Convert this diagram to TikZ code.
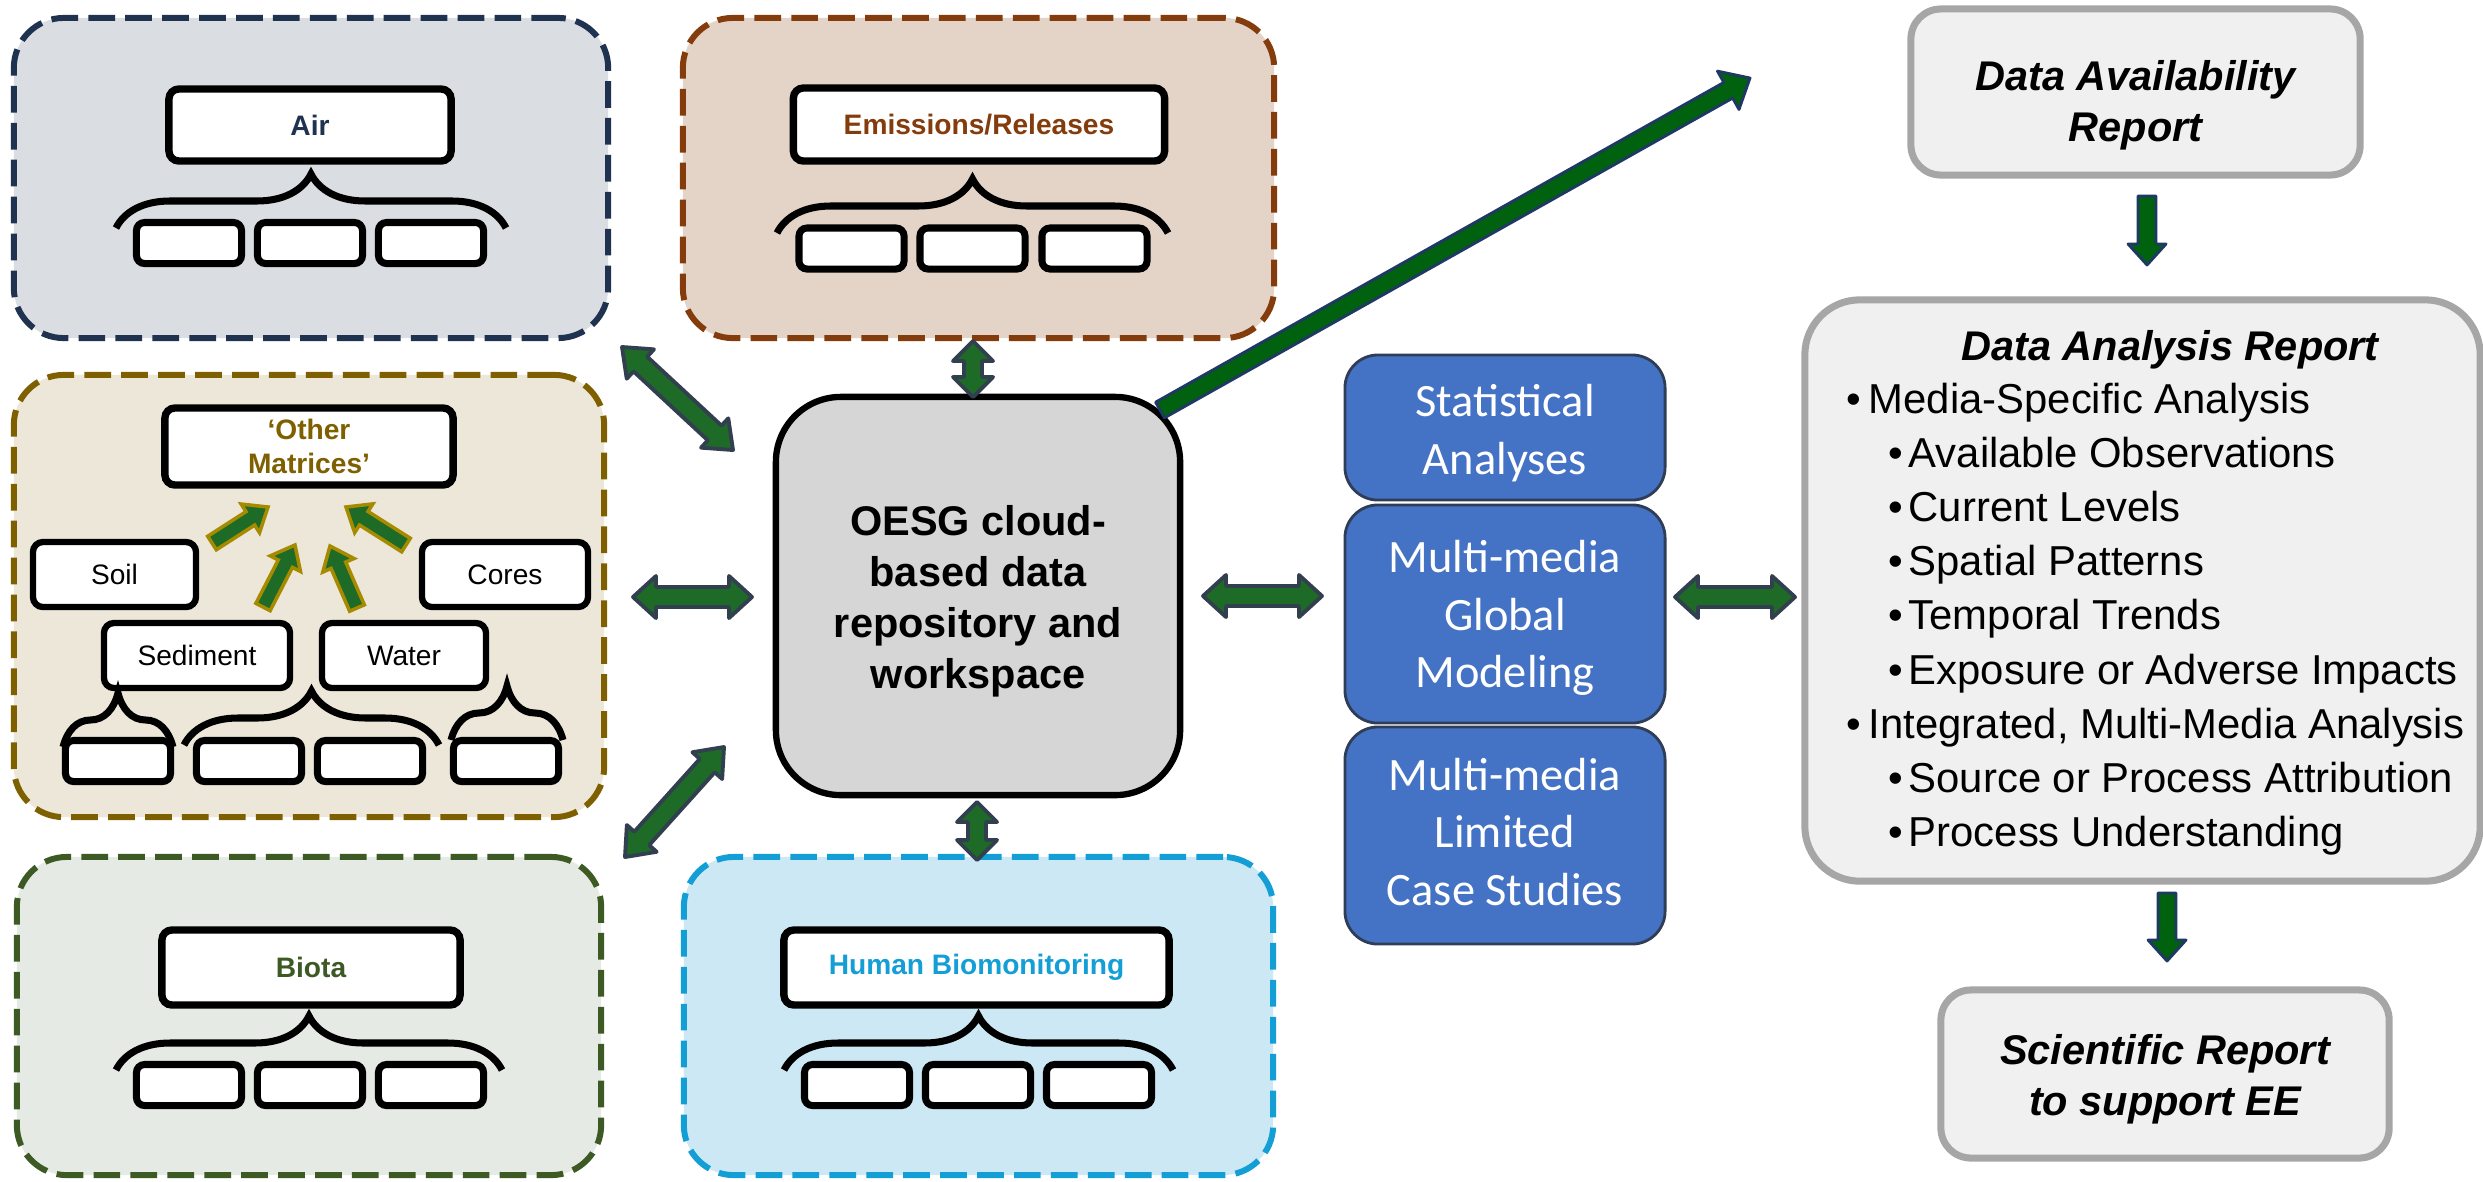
\documentclass[tikz,border=0pt]{standalone}
\usepackage{fontspec}
\setmainfont{Liberation Sans}
\newfontfamily\calib{Carlito}
\usetikzlibrary{calc,decorations.pathreplacing}

\definecolor{airC}{HTML}{1F3350}
\definecolor{airF}{HTML}{DADEE2}
\definecolor{emC}{HTML}{843C0C}
\definecolor{emF}{HTML}{E4D3C7}
\definecolor{othC}{HTML}{7F6000}
\definecolor{othF}{HTML}{EDE7DA}
\definecolor{bioC}{HTML}{3D5A24}
\definecolor{bioF}{HTML}{E6EAE4}
\definecolor{humC}{HTML}{139FD6}
\definecolor{humF}{HTML}{CCE8F4}
\definecolor{oesgF}{HTML}{D6D6D6}
\definecolor{arrF}{HTML}{1E6B28}
\definecolor{arrB}{HTML}{323F4F}
\definecolor{bigF}{HTML}{00610F}
\definecolor{bigB}{HTML}{1F3864}
\definecolor{goldB}{HTML}{A68B00}
\definecolor{blueF}{HTML}{4472C4}
\definecolor{blueB}{HTML}{2F3D57}
\definecolor{repF}{HTML}{F0F0F0}
\definecolor{repB}{HTML}{A6A6A6}

% double block arrow: #1 style, #2 A, #3 B, #4 shaft half width, #5 head half width, #6 head length
\newcommand{\dbarrow}[6]{%
\draw[#1] let \p1=($(#2)!#6!(#3)$), \p2=($(#3)!#6!(#2)$) in
 (#2) -- ($(\p1)!#5!90:(#3)$) -- ($(\p1)!#4!90:(#3)$) -- ($(\p2)!#4!-90:(#2)$) -- ($(\p2)!#5!-90:(#2)$) -- (#3)
 -- ($(\p2)!#5!90:(#2)$) -- ($(\p2)!#4!90:(#2)$) -- ($(\p1)!#4!-90:(#3)$) -- ($(\p1)!#5!-90:(#3)$) -- cycle;}
% single block arrow
\newcommand{\sgarrow}[6]{%
\draw[#1] let \p1=($(#3)!#6!(#2)$) in
 ($(#2)!#4!90:(#3)$) -- ($(\p1)!#4!-90:(#2)$) -- ($(\p1)!#5!-90:(#2)$) -- (#3)
 -- ($(\p1)!#5!90:(#2)$) -- ($(\p1)!#4!90:(#2)$) -- ($(#2)!#4!-90:(#3)$) -- cycle;}

\tikzset{
 region/.style={line width=1.7pt, dash pattern=on 7.6pt off 2.9pt, rounded corners=0.5cm, inner sep=0pt},
 lbl/.style={draw=black, fill=white, line width=2.1pt, rounded corners=0.1cm, inner sep=0pt,
   font=\fontsize{8}{9.6}\selectfont\bfseries, align=center},
 mbox/.style={draw=black, fill=white, line width=1.8pt, rounded corners=0.1cm, inner sep=0pt,
   font=\fontsize{8}{9.6}\selectfont},
 slot/.style={draw=black, fill=white, line width=2pt, rounded corners=0.08cm,
   minimum width=1.05cm, minimum height=0.41cm, inner sep=0pt},
 brc/.style={draw=black, line width=2pt, decorate, decoration={brace, amplitude=0.54cm}},
 darr/.style={fill=arrF, draw=arrB, line width=1.1pt, line join=round},
 barr/.style={fill=bigF, draw=bigB, line width=0.8pt, line join=round},
 garr/.style={fill=arrF, draw=goldB, line width=1pt, line join=miter},
 bluebox/.style={draw=blueB, fill=blueF, line width=0.8pt, rounded corners=0.33cm,
   minimum width=3.2cm, inner sep=0pt},
 bluetxt/.style={text=white, font=\calib\fontsize{13.2}{16.3}\selectfont, align=center, inner sep=0pt},
 rep/.style={draw=repB, fill=repF, line width=2pt, inner sep=0pt},
 bigtxt/.style={font=\fontsize{11.8}{14.5}\selectfont, align=center, inner sep=0pt},
 bul/.style={font=\fontsize{11.9}{14.5}\selectfont, anchor=base west, inner sep=0pt},
}

\begin{document}
\begin{tikzpicture}[x=0.01cm, y=-0.01cm]
\useasboundingbox (0,0) rectangle (2483,1181);

% ---------- regions ----------
\node[region, draw=airC, fill=airF, minimum width=5.94cm, minimum height=3.2cm] (air) at (311,178) {};
\node[region, draw=emC, fill=emF, minimum width=5.91cm, minimum height=3.2cm] (emi) at (978.5,178) {};
\node[region, draw=othC, fill=othF, minimum width=5.9cm, minimum height=4.42cm] (oth) at (309,596) {};
\node[region, draw=bioC, fill=bioF, minimum width=5.84cm, minimum height=3.18cm] (bio) at (309,1016) {};
\node[region, draw=humC, fill=humF, minimum width=5.89cm, minimum height=3.18cm] (hum) at (978.5,1016) {};

% ---------- Air ----------
\node[lbl, text=airC, minimum width=2.82cm, minimum height=0.72cm] (airl) at (310,125) {Air};
\draw[brc] (116,228) -- (506,228);
\node[slot] (airs1) at (189,243) {};
\node[slot] (airs2) at (310,243) {};
\node[slot] (airs3) at (431,243) {};

% ---------- Emissions ----------
\node[lbl, text=emC, minimum width=3.71cm, minimum height=0.73cm] (emil) at (979,124.5) {Emissions/Releases};
\draw[brc] (777,233) -- (1168,233);
\node[slot] (emis1) at (851.5,248.5) {};
\node[slot] (emis2) at (972.5,248.5) {};
\node[slot] (emis3) at (1094.5,248.5) {};

% ---------- Other matrices ----------
\node[lbl, text=othC, minimum width=2.88cm, minimum height=0.77cm] (othl) at (309,446.5) {‘Other\\Matrices’};
\node[mbox, minimum width=1.63cm, minimum height=0.65cm] (soil) at (114.5,574.5) {Soil};
\node[mbox, minimum width=1.66cm, minimum height=0.65cm] (cores) at (505,574.5) {Cores};
\node[mbox, minimum width=1.86cm, minimum height=0.65cm] (sed) at (197,655.5) {Sediment};
\node[mbox, minimum width=1.64cm, minimum height=0.65cm] (wat) at (404,655.5) {Water};
\draw[brc] (63,747) -- (173,747);
\draw[brc] (184,745) -- (439,745);
\draw[brc] (451,740) -- (563,740);
\node[slot] (oths1) at (118,761) {};
\node[slot] (oths2) at (249,761) {};
\node[slot] (oths3) at (370,761) {};
\node[slot] (oths4) at (506,761) {};
\coordinate (g1a) at (212,543); \coordinate (g1b) at (268,507);
\coordinate (g2a) at (263,607); \coordinate (g2b) at (295,545);
\coordinate (g3a) at (357,608); \coordinate (g3b) at (330,546);
\coordinate (g4a) at (406,545); \coordinate (g4b) at (346,507);
\sgarrow{garr}{g1a}{g1b}{0.08cm}{0.17cm}{0.21cm}
\sgarrow{garr}{g2a}{g2b}{0.08cm}{0.17cm}{0.21cm}
\sgarrow{garr}{g3a}{g3b}{0.08cm}{0.17cm}{0.21cm}
\sgarrow{garr}{g4a}{g4b}{0.08cm}{0.17cm}{0.21cm}

% ---------- Biota ----------
\node[lbl, text=bioC, minimum width=2.98cm, minimum height=0.75cm] (biol) at (311,967.5) {Biota};
\draw[brc] (116,1070) -- (502,1070);
\node[slot] (bios1) at (189,1085) {};
\node[slot] (bios2) at (310,1085) {};
\node[slot] (bios3) at (431,1085) {};

% ---------- Human biomonitoring ----------
\node[lbl, text=humC, minimum width=3.85cm, minimum height=0.75cm] (huml) at (976.5,967.5) {Human Biomonitoring};
\draw[brc] (784,1070) -- (1173,1070);
\node[slot] (hums1) at (857,1085) {};
\node[slot] (hums2) at (978,1085) {};
\node[slot] (hums3) at (1099,1085) {};

% ---------- OESG ----------
\node[draw=black, fill=oesgF, line width=1.8pt, rounded corners=0.65cm, minimum width=4.04cm,
  minimum height=3.98cm, inner sep=0pt] (oesg) at (978,596) {};
\node[bigtxt, font=\fontsize{11.8}{14.5}\selectfont\bfseries] (oesgt) at (978,601)
  {OESG cloud-\\based data\\repository and\\workspace};

% ---------- blue boxes ----------
\node[bluebox, minimum height=1.45cm] (stat) at (1505,427.5) {};
\node[bluebox, minimum height=2.18cm] (glob) at (1505,614) {};
\node[bluebox, minimum height=2.17cm] (lim) at (1505,835.5) {};
\node[bluetxt] (statt) at (1505,433) {Statistical\\Analyses};
\node[bluetxt] (globt) at (1505,618) {Multi-media\\Global\\Modeling};
\node[bluetxt] (limt) at (1505,832) {Multi-media\\Limited\\Case Studies};

% ---------- reports ----------
\node[rep, rounded corners=0.3cm, minimum width=4.49cm, minimum height=1.66cm] (avail) at (2135.5,92) {};
\node[bigtxt, font=\fontsize{11.8}{14.5}\selectfont\bfseries\itshape] (availt) at (2135.5,105)
  {Data Availability\\Report};
\node[rep, rounded corners=0.55cm, minimum width=6.75cm, minimum height=5.81cm] (ana) at (2142.5,590.5) {};
\node[bul, anchor=base, font=\fontsize{11.8}{14.5}\selectfont\bfseries\itshape] (anat) at (2170,360) {Data Analysis Report};
\node[bul] (b1) at (1846,413) {•};   \node[bul] (t1) at (1868,413) {Media-Specific Analysis};
\node[bul] (b2) at (1888,467) {•};   \node[bul] (t2) at (1908,467) {Available Observations};
\node[bul] (b3) at (1888,521) {•};   \node[bul] (t3) at (1908,521) {Current Levels};
\node[bul] (b4) at (1888,575) {•};   \node[bul] (t4) at (1908,575) {Spatial Patterns};
\node[bul] (b5) at (1888,629) {•};   \node[bul] (t5) at (1908,629) {Temporal Trends};
\node[bul] (b6) at (1888,684) {•};   \node[bul] (t6) at (1908,684) {Exposure or Adverse Impacts};
\node[bul] (b7) at (1846,738) {•};   \node[bul] (t7) at (1868,738) {Integrated, Multi-Media Analysis};
\node[bul] (b8) at (1888,792) {•};   \node[bul] (t8) at (1908,792) {Source or Process Attribution};
\node[bul] (b9) at (1888,846) {•};   \node[bul] (t9) at (1908,846) {Process Understanding};
\node[rep, rounded corners=0.3cm, minimum width=4.48cm, minimum height=1.68cm] (sci) at (2165,1074) {};
\node[bigtxt, font=\fontsize{11.8}{14.5}\selectfont\bfseries\itshape] (scit) at (2165,1079)
  {Scientific Report\\to support EE};

% ---------- connectors ----------
\coordinate (vA1) at (973,341);  \coordinate (vA2) at (973,397);
\coordinate (vB1) at (977,802);  \coordinate (vB2) at (977,860);
\coordinate (hL1) at (633,597);  \coordinate (hL2) at (752,597);
\coordinate (hR1) at (1203,596); \coordinate (hR2) at (1322,596);
\coordinate (hB1) at (1675,597); \coordinate (hB2) at (1795,597);
\coordinate (dU1) at (622,347);  \coordinate (dU2) at (733,450);
\coordinate (dD1) at (724,747);  \coordinate (dD2) at (625,857);
\coordinate (big1) at (1160,410); \coordinate (big2) at (1750,78);
\coordinate (dn1a) at (2147,196); \coordinate (dn1b) at (2147,265);
\coordinate (dn2a) at (2167,893); \coordinate (dn2b) at (2167,961);

\dbarrow{darr}{vA1}{vA2}{0.09cm}{0.2cm}{0.2cm}
\dbarrow{darr}{vB1}{vB2}{0.09cm}{0.2cm}{0.2cm}
\dbarrow{darr}{hL1}{hL2}{0.1cm}{0.21cm}{0.23cm}
\dbarrow{darr}{hR1}{hR2}{0.1cm}{0.21cm}{0.23cm}
\dbarrow{darr}{hB1}{hB2}{0.1cm}{0.21cm}{0.23cm}
\dbarrow{darr}{dU1}{dU2}{0.1cm}{0.2cm}{0.25cm}
\dbarrow{darr}{dD1}{dD2}{0.1cm}{0.2cm}{0.25cm}
\sgarrow{barr}{big1}{big2}{0.09cm}{0.22cm}{0.25cm}
\sgarrow{barr}{dn1a}{dn1b}{0.09cm}{0.19cm}{0.21cm}
\sgarrow{barr}{dn2a}{dn2b}{0.09cm}{0.19cm}{0.21cm}
\end{tikzpicture}
\end{document}
